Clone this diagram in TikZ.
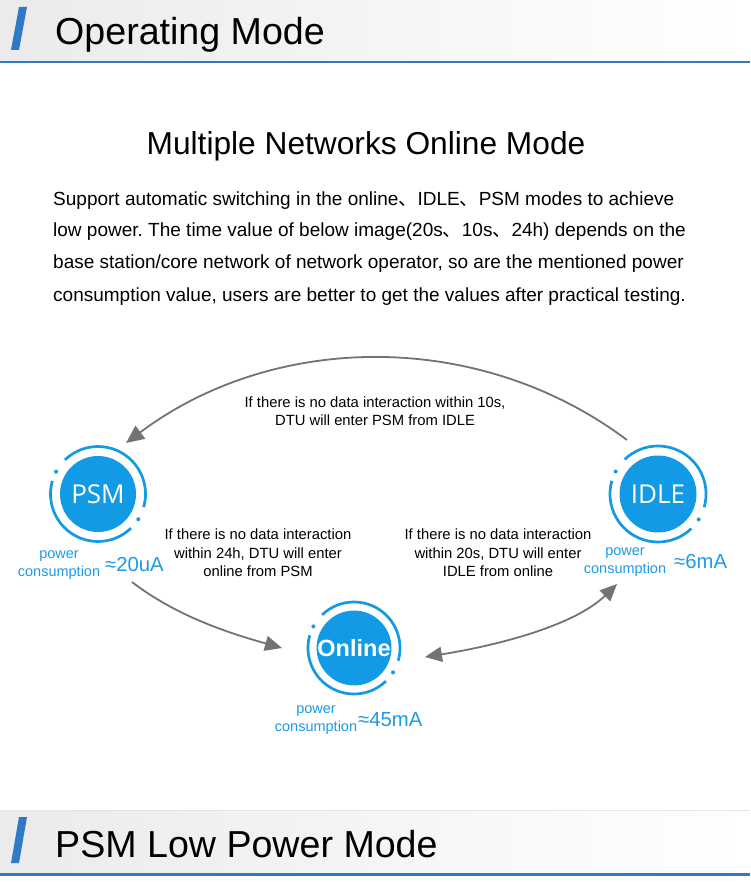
\documentclass[tikz,border=0pt]{standalone}
\usepackage{fontspec}
\setmainfont{Liberation Sans}
\newfontfamily\cjk{Noto Sans CJK SC}
\newfontfamily\circfont{Open Sans}
\usetikzlibrary{arrows.meta}
\frenchspacing
\definecolor{hblue}{HTML}{2E7AC6}
\definecolor{cblue}{HTML}{129BE4}
\definecolor{lblue}{HTML}{1D9BE6}
\definecolor{agray}{HTML}{737373}
\newcommand{\dun}{{\cjk 、}}
\tikzset{
 para/.style={anchor=base west, inner sep=0pt, font=\fontsize{19}{22}\selectfont},
 head/.style={anchor=base west, inner sep=0pt, font=\fontsize{37.6}{40}\selectfont},
 lbl/.style={align=center, inner sep=0pt, font=\fontsize{14.8}{18.5}\selectfont},
 pc/.style={text=lblue, align=center, inner sep=0pt, font=\fontsize{14.5}{17.5}\selectfont},
 val/.style={text=lblue, anchor=west, inner sep=0pt, font=\fontsize{20.3}{22}\selectfont},
 modecirc/.style={circle, fill=cblue, text=white, inner sep=0pt, minimum size=#1},
 ring/.style={draw=cblue, line width=2.7pt},
 conn/.style={draw=agray, line width=1.8pt},
 pics/modering/.style={code={
   \draw[ring] (-134:#1) arc[start angle=-134, end angle=16, radius=#1];
   \draw[ring] (46:#1) arc[start angle=46, end angle=196, radius=#1];
   \fill[cblue] (32:#1) circle[radius=2pt];
   \fill[cblue] (-152:#1) circle[radius=2pt];
 }},
}
\begin{document}
\begin{tikzpicture}[x=1pt, y=-1pt]
\useasboundingbox (0,0) rectangle (750,882);
\fill[white] (0,0) rectangle (750,882);
% top header
\shade[left color=black!8, right color=white] (0,0) rectangle (750,61);
\draw[hblue, line width=2.5pt] (0,62) -- (750,62);
\fill[hblue] (11,50) -- (19,50) -- (27,7) -- (19,7) -- cycle;
\node[head] (h1) at (55,45) {Operating Mode};
% bottom header
\shade[left color=black!8, right color=white] (0,810) rectangle (750,873);
\draw[black!10, line width=0.8pt] (0,810) -- (750,810);
\draw[hblue, line width=3pt] (0,874.5) -- (750,874.5);
\fill[hblue] (11,863) -- (19,863) -- (27,817) -- (19,817) -- cycle;
\node[head] (h2) at (55,857) {PSM Low Power Mode};
% title and paragraph
\node[anchor=base, inner sep=0pt, font=\fontsize{31.7}{34}\selectfont] (title) at (366,155) {Multiple Networks Online Mode};
\node[para] (p1) at (53,206) {Support automatic switching in the online\dun IDLE\dun PSM modes to achieve};
\node[para] (p2) at (53,237) {low power. The time value of below image(20s\dun 10s\dun 24h) depends on the};
\node[para] (p3) at (53,269) {base station/core network of network operator, so are the mentioned power};
\node[para] (p4) at (53,301) {consumption value, users are better to get the values after practical testing.};
% mode circles
\node[modecirc=76pt, font=\circfont\fontsize{26}{26}\selectfont] (psm) at (98,494) {PSM};
\pic at (98,494) {modering=47.5};
\node[modecirc=77pt, font=\circfont\fontsize{26}{26}\selectfont] (idle) at (658,494) {IDLE};
\pic at (658,494) {modering=48};
\node[modecirc=74pt, font=\bfseries\fontsize{23.5}{24}\selectfont] (online) at (354,648) {Online};
\pic at (354,648) {modering=46};
% power labels
\node[pc] (psmpc) at (59,565) {power\\consumption};
\node[val] (psmval) at (105,565) {≈20uA};
\node[pc] (idlepc) at (625,562) {power\\consumption};
\node[val] (idleval) at (674,562) {≈6mA};
\node[pc] (onlpc) at (316,720) {power\\consumption};
\node[val] (onlval) at (358,720) {≈45mA};
% transition labels
\node[lbl] (t1) at (375,411) {If there is no data interaction within 10s,\\DTU will enter PSM from IDLE};
\node[lbl] (t2) at (258,553) {If there is no data interaction\\within 24h, DTU will enter\\online from PSM};
\node[lbl] (t3) at (498,553) {If there is no data interaction\\within 20s, DTU will enter\\IDLE from online};
% connectors
\coordinate (a1s) at (627,440);
\coordinate (a1e) at (126,443);
\coordinate (a2s) at (132,582);
\coordinate (a2e) at (282,648);
\coordinate (a3s) at (425,657);
\coordinate (a3e) at (617,584);
\draw[conn, -{Triangle[length=18pt,width=16pt]}] (a1s) .. controls (479,329) and (274,332) .. (a1e);
\draw[conn, -{Triangle[length=17pt,width=15pt]}] (a2s) .. controls (175,615) and (225,632) .. (a2e);
\draw[conn, {Triangle[length=17pt,width=15pt]}-{Triangle[length=17pt,width=15pt]}] (a3s) .. controls (500,645) and (575,625) .. (a3e);
\end{tikzpicture}
\end{document}
